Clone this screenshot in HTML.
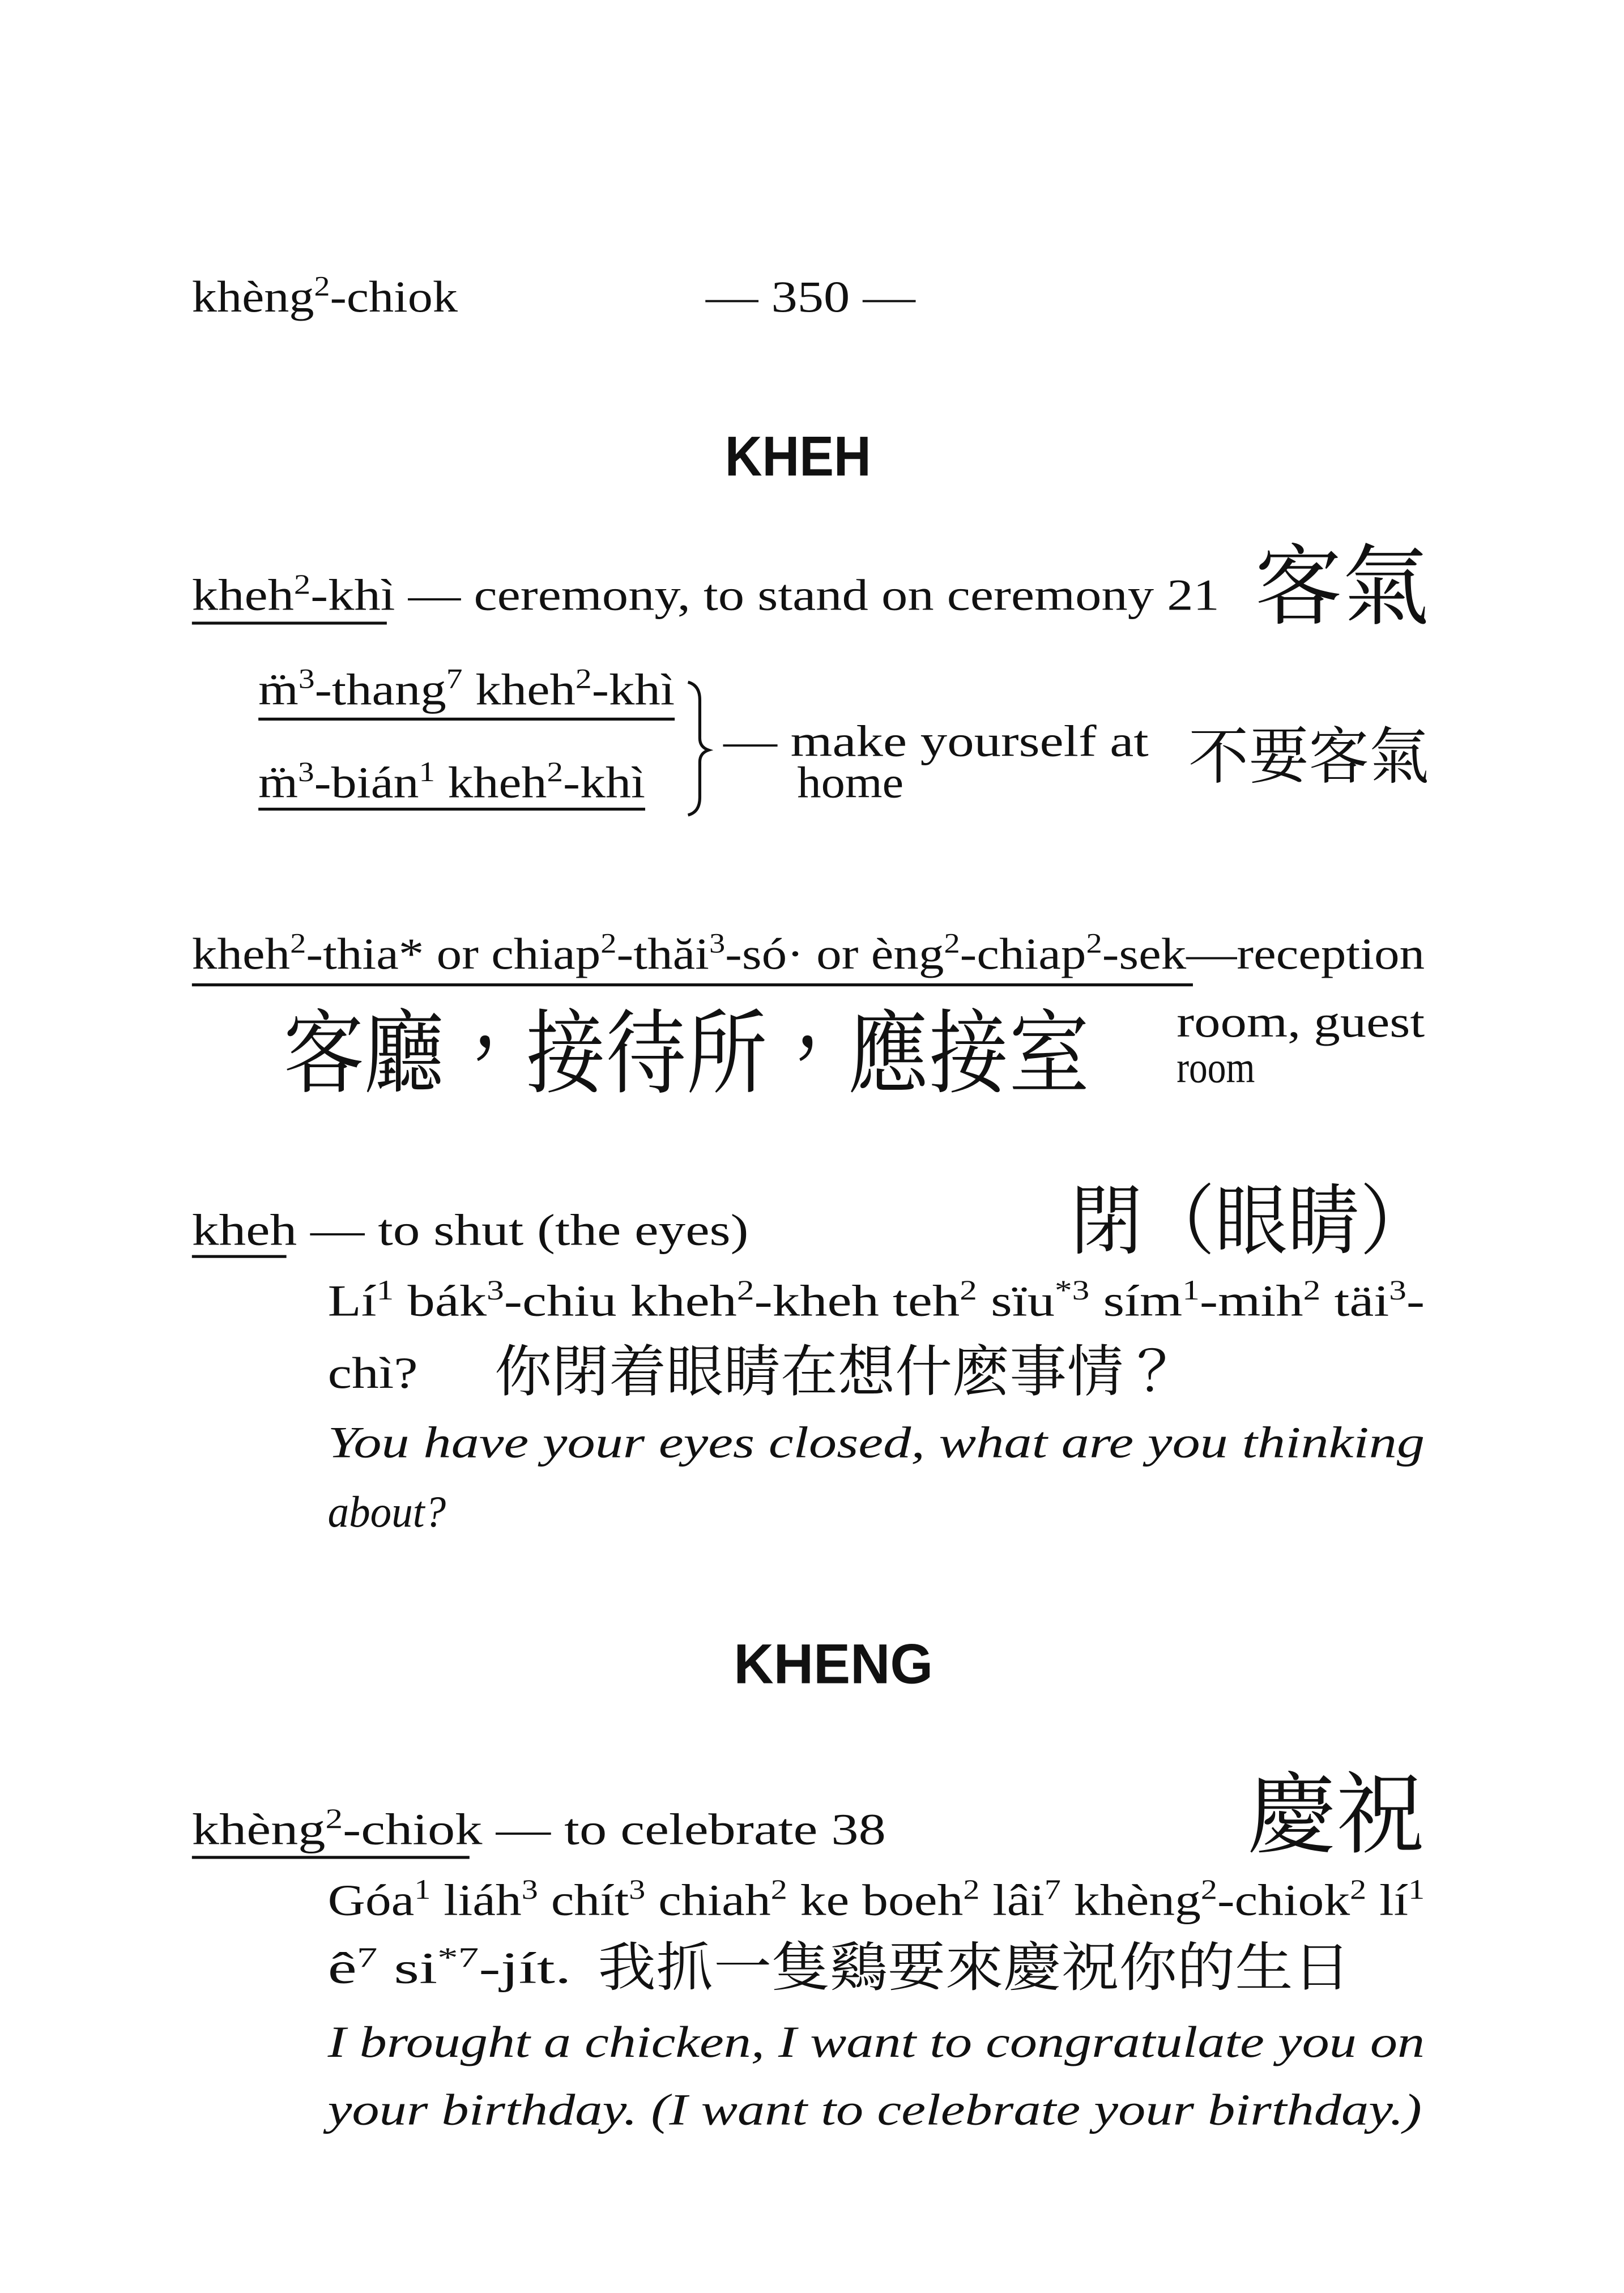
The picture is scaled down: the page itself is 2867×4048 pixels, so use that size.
<!DOCTYPE html>
<html><head><meta charset="utf-8">
<style>
html,body{margin:0;padding:0;background:#fff;}
svg{display:block;}
.s{font-family:"Liberation Serif","Noto Serif CJK SC",serif;font-size:30px;fill:#111;}
.i{font-style:italic;}
.h{font-family:"Liberation Sans",sans-serif;font-weight:bold;font-size:38px;fill:#111;}
.c{font-family:"Liberation Serif","Noto Serif CJK TC","Noto Serif CJK SC",serif;fill:#111;}
.u{stroke:#111;stroke-width:2;}
</style></head>
<body>
<svg width="2867" height="4048" viewBox="0 0 1100 1553" xmlns="http://www.w3.org/2000/svg">
<rect width="1100" height="1553" fill="#fff"/>
<text class="s" x="130" y="211" textLength="180" lengthAdjust="spacingAndGlyphs">khèng<tspan font-size="19" dy="-11">2</tspan><tspan dy="11">-chiok</tspan></text>
<text class="s" x="478" y="211" textLength="142" lengthAdjust="spacingAndGlyphs">— 350 —</text>

<text class="h" x="491" y="322" textLength="99" lengthAdjust="spacingAndGlyphs">KHEH</text>

<g>
<text class="s" x="130" y="413" textLength="696" lengthAdjust="spacingAndGlyphs">kheh<tspan font-size="19" dy="-11">2</tspan><tspan dy="11">-khì — ceremony, to stand on ceremony  21</tspan></text>
<line class="u" x1="130" y1="422" x2="262" y2="422"/>
<text class="c" x="850" y="418" font-size="60" textLength="118" lengthAdjust="spacingAndGlyphs">客氣</text>
<text class="s" x="175" y="477" textLength="282" lengthAdjust="spacingAndGlyphs">m̈<tspan font-size="19" dy="-11">3</tspan><tspan dy="11">-thang</tspan><tspan font-size="19" dy="-11">7</tspan><tspan dy="11"> kheh</tspan><tspan font-size="19" dy="-11">2</tspan><tspan dy="11">-khì</tspan></text>
<line class="u" x1="175" y1="487" x2="457" y2="487"/>
<text class="s" x="175" y="540" textLength="262" lengthAdjust="spacingAndGlyphs">m̈<tspan font-size="19" dy="-11">3</tspan><tspan dy="11">-bián</tspan><tspan font-size="19" dy="-11">1</tspan><tspan dy="11"> kheh</tspan><tspan font-size="19" dy="-11">2</tspan><tspan dy="11">-khì</tspan></text>
<line class="u" x1="175" y1="548" x2="437" y2="548"/>
<path d="M466 462 Q474 464 474 474 L474 500 Q474 506 480 508 Q474 510 474 516 L474 540 Q474 550 466 552" fill="none" stroke="#111" stroke-width="2"/>
<text class="s" x="490" y="512" textLength="288" lengthAdjust="spacingAndGlyphs">— make yourself at</text>
<text class="s" x="540" y="540" textLength="72" lengthAdjust="spacingAndGlyphs">home</text>
<text class="c" x="805" y="527" font-size="42" textLength="163" lengthAdjust="spacingAndGlyphs">不要客氣</text>
</g>

<g>
<text class="s" x="130" y="656" textLength="835" lengthAdjust="spacingAndGlyphs">kheh<tspan font-size="19" dy="-11">2</tspan><tspan dy="11">-thia* or chiap</tspan><tspan font-size="19" dy="-11">2</tspan><tspan dy="11">-thăi</tspan><tspan font-size="19" dy="-11">3</tspan><tspan dy="11">-só· or èng</tspan><tspan font-size="19" dy="-11">2</tspan><tspan dy="11">-chiap</tspan><tspan font-size="19" dy="-11">2</tspan><tspan dy="11">-sek—reception</tspan></text>
<line class="u" x1="130" y1="667" x2="808" y2="667"/>
<text class="c" x="192" y="735" font-size="62" textLength="546" lengthAdjust="spacingAndGlyphs">客廳，接待所，應接室</text>
<text class="s" x="797" y="702" textLength="168" lengthAdjust="spacingAndGlyphs">room, guest</text>
<text class="s" x="797" y="733" textLength="53" lengthAdjust="spacingAndGlyphs">room</text>
</g>

<g>
<text class="s" x="130" y="843" textLength="377" lengthAdjust="spacingAndGlyphs">kheh — to shut (the eyes)</text>
<line class="u" x1="130" y1="851" x2="194" y2="851"/>
<text class="c" x="725" y="845" font-size="52" textLength="245" lengthAdjust="spacingAndGlyphs">閉（眼睛）</text>
<text class="s" x="222" y="891" textLength="743" lengthAdjust="spacingAndGlyphs">Lí<tspan font-size="19" dy="-11">1</tspan><tspan dy="11"> bák</tspan><tspan font-size="19" dy="-11">3</tspan><tspan dy="11">-chiu kheh</tspan><tspan font-size="19" dy="-11">2</tspan><tspan dy="11">-kheh teh</tspan><tspan font-size="19" dy="-11">2</tspan><tspan dy="11"> sïu</tspan><tspan font-size="19" dy="-11">*3</tspan><tspan dy="11"> sím</tspan><tspan font-size="19" dy="-11">1</tspan><tspan dy="11">-mih</tspan><tspan font-size="19" dy="-11">2</tspan><tspan dy="11"> täi</tspan><tspan font-size="19" dy="-11">3</tspan><tspan dy="11">-</tspan></text>
<text class="s" x="222" y="940" textLength="61" lengthAdjust="spacingAndGlyphs">chì?</text>
<text class="c" x="335" y="942" font-size="38" textLength="465" lengthAdjust="spacingAndGlyphs">你閉着眼睛在想什麽事情？</text>
<text class="s i" x="222" y="987" textLength="743" lengthAdjust="spacingAndGlyphs">You have your eyes closed, what are you thinking</text>
<text class="s i" x="222" y="1034" textLength="80" lengthAdjust="spacingAndGlyphs">about?</text>
</g>

<text class="h" x="497" y="1140" textLength="135" lengthAdjust="spacingAndGlyphs">KHENG</text>

<g>
<text class="s" x="130" y="1249" textLength="470" lengthAdjust="spacingAndGlyphs">khèng<tspan font-size="19" dy="-11">2</tspan><tspan dy="11">-chiok — to celebrate     38</tspan></text>
<line class="u" x1="130" y1="1258" x2="318" y2="1258"/>
<text class="c" x="845" y="1250" font-size="60" textLength="120" lengthAdjust="spacingAndGlyphs">慶祝</text>
<text class="s" x="222" y="1297" textLength="743" lengthAdjust="spacingAndGlyphs">Góa<tspan font-size="19" dy="-11">1</tspan><tspan dy="11"> liáh</tspan><tspan font-size="19" dy="-11">3</tspan><tspan dy="11"> chít</tspan><tspan font-size="19" dy="-11">3</tspan><tspan dy="11"> chiah</tspan><tspan font-size="19" dy="-11">2</tspan><tspan dy="11"> ke boeh</tspan><tspan font-size="19" dy="-11">2</tspan><tspan dy="11"> lâi</tspan><tspan font-size="19" dy="-11">7</tspan><tspan dy="11"> khèng</tspan><tspan font-size="19" dy="-11">2</tspan><tspan dy="11">-chiok</tspan><tspan font-size="19" dy="-11">2</tspan><tspan dy="11"> lí</tspan><tspan font-size="19" dy="-11">1</tspan></text>
<text class="s" x="222" y="1343" textLength="165" lengthAdjust="spacingAndGlyphs">ê<tspan font-size="19" dy="-11">7</tspan><tspan dy="11"> si</tspan><tspan font-size="19" dy="-11">*7</tspan><tspan dy="11">-jít.</tspan></text>
<text class="c" x="405" y="1345" font-size="36" textLength="510" lengthAdjust="spacingAndGlyphs">我抓一隻鷄要來慶祝你的生日</text>
<text class="s i" x="222" y="1393" textLength="743" lengthAdjust="spacingAndGlyphs">I brought a chicken, I want to congratulate you on</text>
<text class="s i" x="222" y="1439" textLength="741" lengthAdjust="spacingAndGlyphs">your birthday.  (I want to celebrate your birthday.)</text>
</g>
</svg>
</body></html>
